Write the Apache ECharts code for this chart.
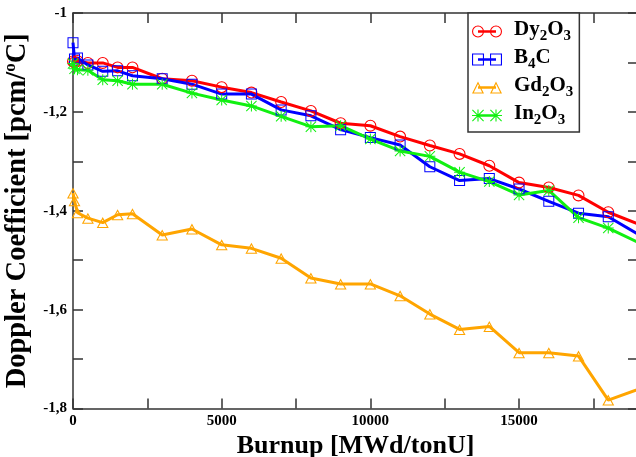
<!DOCTYPE html>
<html>
<head>
<meta charset="utf-8">
<script src="https://cdn.jsdelivr.net/npm/echarts@6/dist/echarts.min.js"></script>
<style>
  html, body { margin: 0; padding: 0; background: #fff; }
  #chart { width: 636px; height: 457px; }
</style>
</head>
<body>
<div id="chart"></div>
<script>
// Burnup steps [MWd/tonU]
const burnup = [0, 50, 150, 500, 1000, 1500, 2000, 3000, 4000, 5000, 6000, 7000, 8000,
  9000, 10000, 11000, 12000, 13000, 14000, 15000, 16000, 17000, 18000, 20000];

// Doppler coefficient [pcm/°C] for each burnable absorber
const dy2o3 = [-1.098, -1.100, -1.097, -1.101, -1.101, -1.110, -1.110, -1.133, -1.137, -1.150,
  -1.161, -1.180, -1.198, -1.223, -1.228, -1.250, -1.268, -1.285, -1.309, -1.343, -1.353,
  -1.369, -1.403, -1.450];
const b4c = [-1.060, -1.093, -1.091, -1.105, -1.118, -1.117, -1.127, -1.133, -1.144, -1.164,
  -1.164, -1.196, -1.208, -1.236, -1.252, -1.267, -1.311, -1.339, -1.335, -1.356, -1.381,
  -1.405, -1.412, -1.483];
const gd2o3 = [-1.364, -1.380, -1.404, -1.415, -1.424, -1.408, -1.406, -1.449, -1.437, -1.469,
  -1.476, -1.496, -1.536, -1.548, -1.548, -1.572, -1.609, -1.640, -1.634, -1.687, -1.687,
  -1.694, -1.783, -1.740];
const in2o3 = [-1.102, -1.113, -1.115, -1.116, -1.135, -1.137, -1.144, -1.144, -1.162, -1.176,
  -1.188, -1.209, -1.230, -1.228, -1.255, -1.279, -1.290, -1.322, -1.341, -1.368, -1.359,
  -1.414, -1.435, -1.493];

const seriesNames = ['Dy2O3', 'B4C', 'Gd2O3', 'In2O3'];
const legendLabels = ['{n|Dy}{s|2}{n|O}{s|3}', '{n|B}{s|4}{n|C}', '{n|Gd}{s|2}{n|O}{s|3}', '{n|In}{s|2}{n|O}{s|3}'];
const seriesColors = ['#ff0000', '#0000ff', '#ffa500', '#11f011'];

// Hollow marker outlines (filled rings so the line shows through)
const circleRing = dx => `M${dx} 6A6 6 0 1 1 ${dx + 12} 6A6 6 0 1 1 ${dx} 6Z` +
  `M${dx + 1.1} 6A4.9 4.9 0 1 0 ${dx + 10.9} 6A4.9 4.9 0 1 0 ${dx + 1.1} 6Z`;
const squareRing = dx => `M${dx} 0H${dx + 12}V12H${dx}Z` +
  `M${dx + 1.1} 1.1V10.9H${dx + 10.9}V1.1Z`;
const triRing = dx => `M${dx + 6} 0L${dx + 12} 12H${dx}Z` +
  `M${dx + 6} 2.5L${dx + 1.8} 10.9H${dx + 10.2}Z`;
const starShape = dx => `M${dx + 5.45} 0H${dx + 6.55}V12H${dx + 5.45}Z` +
  `M${dx} 5.45H${dx + 12}V6.55H${dx}Z` +
  `M${dx} 0.78L${dx + 0.78} 0L${dx + 12} 11.22L${dx + 11.22} 12Z` +
  `M${dx + 11.22} 0L${dx + 12} 0.78L${dx + 0.78} 12L${dx} 11.22Z`;
const shapes = [circleRing, squareRing, triRing, starShape];
const markerSizes = [[12, 12], [11, 11], [12, 11], [11, 11]];
const legendBar = 'M6 4.8H24V7.2H6Z';

const FONT = '"Liberation Serif", "Times New Roman", serif';
const valueSets = [dy2o3, b4c, gd2o3, in2o3];

const chart = echarts.init(document.getElementById('chart'), null, { renderer: 'canvas' });

const axisLine = { show: true, onZero: false, lineStyle: { color: '#333', width: 1.5 } };
const axisTick = { show: true, inside: true, length: 10, lineStyle: { color: '#333', width: 1.5 } };

const labelStyle = { fontFamily: FONT, fontWeight: 'bold', fontSize: 15, color: '#000' };

chart.setOption({
  animation: false,
  backgroundColor: '#fff',
  grid: { left: 73, right: -2, top: 13, bottom: 48.5, containLabel: false, outerBoundsMode: 'none' },
  legend: {
    orient: 'vertical',
    left: 468,
    top: 13,
    itemWidth: 30,
    itemHeight: 12,
    itemGap: 0,
    padding: [2.5, 6, 4.5, 4],
    borderColor: '#333',
    borderWidth: 1.5,
    backgroundColor: '#fff',
    selectedMode: false,
    itemStyle: { borderWidth: 0 },
    data: seriesNames.map((name, i) => ({
      name,
      icon: 'path://' + shapes[i](0) + legendBar + shapes[i](18)
    })),
    formatter: name => legendLabels[seriesNames.indexOf(name)],
    textStyle: {
      padding: [0, 0, 0, 7],
      rich: {
        n: { fontFamily: FONT, fontWeight: 'bold', fontSize: 21, color: '#000', lineHeight: 24, verticalAlign: 'top' },
        s: { fontFamily: FONT, fontWeight: 'bold', fontSize: 15, color: '#000', lineHeight: 14, padding: [13, 0, 0, 0], verticalAlign: 'bottom' }
      }
    }
  },
  xAxis: [{
    type: 'value',
    position: 'bottom',
    min: 0,
    max: 19000,
    interval: 2500,
    axisLine, axisTick,
    splitLine: { show: false },
    axisLabel: Object.assign({ margin: 5, formatter: v => (v % 5000 === 0 ? String(v) : '') }, labelStyle),
    name: 'Burnup [MWd/tonU]',
    nameLocation: 'middle',
    nameGap: 17,
    nameTextStyle: { fontFamily: FONT, fontWeight: 'bold', fontSize: 26, color: '#000' }
  }, {
    type: 'value',
    position: 'top',
    min: 0,
    max: 19000,
    interval: 2500,
    axisLine, axisTick,
    splitLine: { show: false },
    axisLabel: { show: false }
  }],
  yAxis: [{
    type: 'value',
    position: 'left',
    min: -1.8,
    max: -1,
    interval: 0.1,
    axisLine, axisTick,
    splitLine: { show: false },
    axisLabel: Object.assign({
      margin: 6,
      formatter: v => {
        const k = Math.round(v * 10);
        if (k % 2 !== 0) return '';
        return String(k / 10).replace('.', ',');
      }
    }, labelStyle),
    name: 'Doppler Coefficient [pcm/{sup|o}C]',
    nameLocation: 'middle',
    nameGap: 31,
    nameTextStyle: {
      fontFamily: FONT, fontWeight: 'bold', fontSize: 28.5, color: '#000', lineHeight: 30,
      rich: {
        sup: { fontFamily: FONT, fontWeight: 'bold', fontSize: 17, color: '#000', lineHeight: 17, verticalAlign: 'top' }
      }
    }
  }, {
    type: 'value',
    position: 'right',
    min: -1.8,
    max: -1,
    interval: 0.1,
    axisLine, axisTick,
    splitLine: { show: false },
    axisLabel: { show: false }
  }],
  series: seriesNames.map((name, i) => ({
    name,
    type: 'line',
    xAxisIndex: 0,
    yAxisIndex: 0,
    clip: true,
    data: burnup.map((b, j) => [b, valueSets[i][j]]),
    symbol: 'path://' + shapes[i](0),
    symbolSize: markerSizes[i],
    showAllSymbol: true,
    lineStyle: { color: seriesColors[i], width: 3 },
    itemStyle: { color: seriesColors[i], borderWidth: 0 },
    emphasis: { disabled: true }
  }))
});
</script>
</body>
</html>
